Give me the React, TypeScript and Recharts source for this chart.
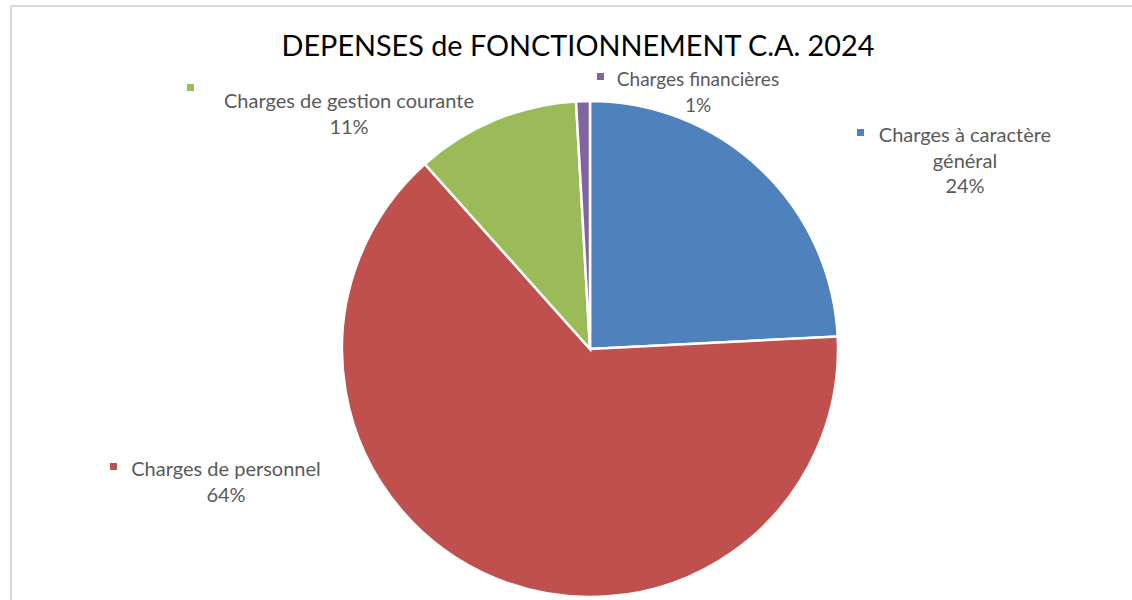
import React from "react";
import { PieChart, Pie, Cell } from "recharts";

const categories = [
  "Charges à caractère général",
  "Charges de personnel",
  "Charges de gestion courante",
  "Charges financières",
];
const values = [24.2, 64.2, 10.7, 0.9];
const colors = ["#4F81BD", "#C0504D", "#9BBB59", "#8064A2"];
const title = "DEPENSES de FONCTIONNEMENT C.A. 2024";

const data = categories.map((name, i) => ({ name, value: values[i] }));

// label layout (offsets from pie centre), per slice index
const LABEL_LAYOUT = [
  { dx: 375, dy: -207, mdx: 267, mdy: -220, breakAfter: 3, fs: 20 },
  { dx: -364, dy: 127, mdx: -480, mdy: 114, breakAfter: 0, fs: 20 },
  { dx: -241, dy: -241, mdx: -403, mdy: -265, breakAfter: 0, fs: 20 },
  { dx: 108, dy: -263, mdx: 7, mdy: -276, breakAfter: 0, fs: 19 },
];

const CX = 590;
const CY = 349;
const LINE_H = 25.5;
const FONT = "Lato, 'Open Sans', sans-serif";

const renderLabel = (props: any) => {
  const index: number = props.index;
  const cx: number = props.cx ?? CX;
  const cy: number = props.cy ?? CY;
  const lay = LABEL_LAYOUT[index];
  const words = String(categories[index]).split(" ");
  const lines =
    lay.breakAfter > 0
      ? [words.slice(0, lay.breakAfter).join(" "), words.slice(lay.breakAfter).join(" ")]
      : [words.join(" ")];
  lines.push(`${Math.round(props.percent * 100)}%`);
  const x = cx + lay.dx;
  const y = cy + lay.dy;
  return (
    <g key={`lbl-${index}`}>
      <rect x={cx + lay.mdx} y={cy + lay.mdy} width={7} height={7} fill={colors[index]} />
      <text
        x={x}
        y={y}
        textAnchor="middle"
        fill="#595959"
        fontFamily={FONT}
        fontSize={lay.fs}
      >
        {lines.map((l, i) => (
          <tspan key={i} x={x} y={y + i * LINE_H}>
            {l}
          </tspan>
        ))}
      </text>
    </g>
  );
};

export default function App() {
  return (
    <div style={{ position: "absolute", left: 0, top: 0, width: 1132, height: 600, background: "#fff", overflow: "hidden" }}>
      <div
        style={{
          position: "absolute",
          left: 10,
          top: 5,
          width: 1130,
          height: 610,
          border: "2px solid #d9d9d9",
          boxSizing: "border-box",
        }}
      />
      <PieChart
        width={1132}
        height={600}
        margin={{ top: 0, right: 0, bottom: 0, left: 0 }}
        style={{ position: "absolute", left: 0, top: 0 }}
      >
        <text x={578} y={56} textAnchor="middle" fontFamily={FONT} fontSize={28.8} fill="#000">
          {title}
        </text>
        <Pie
          data={data}
          dataKey="value"
          nameKey="name"
          cx={CX}
          cy={CY}
          outerRadius={248}
          startAngle={90}
          endAngle={-270}
          stroke="#fff"
          strokeWidth={2.5}
          label={renderLabel}
          labelLine={false}
          isAnimationActive={false}
        >
          {data.map((d, i) => (
            <Cell key={d.name} fill={colors[i]} />
          ))}
        </Pie>
      </PieChart>
    </div>
  );
}
